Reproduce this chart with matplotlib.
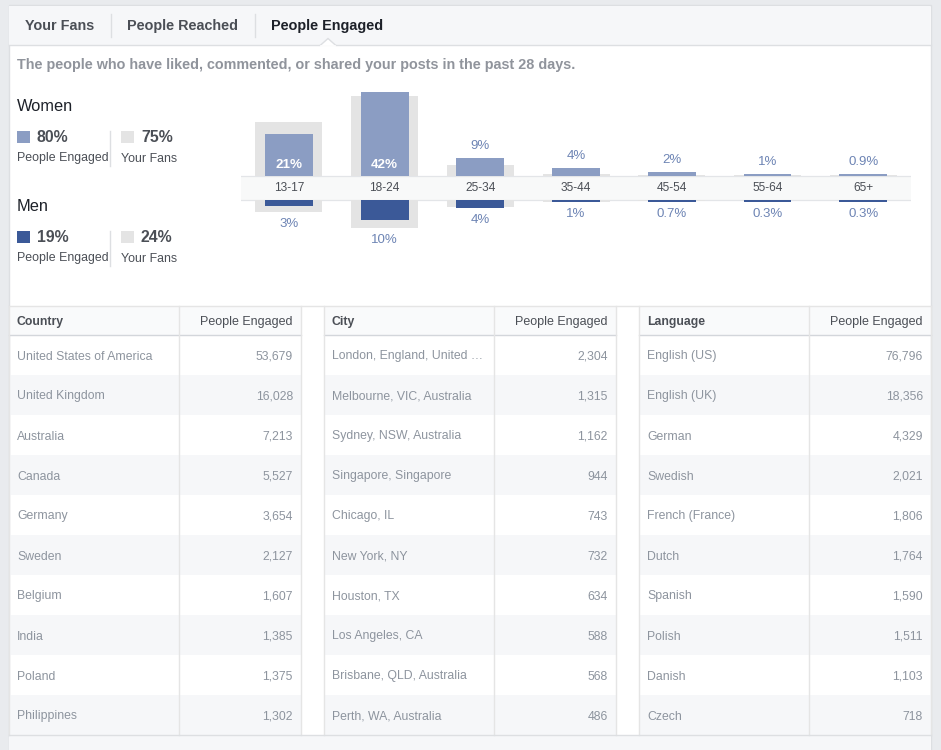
import numpy as np
import matplotlib
matplotlib.use('Agg')
import matplotlib.pyplot as plt
from matplotlib.patches import Rectangle, Polygon

plt.rcParams['font.family'] = ['Liberation Sans', 'DejaVu Sans']

# --- данные ---
age_groups = ['13-17', '18-24', '25-34', '35-44', '45-54', '55-64', '65+']
women_engaged = [21, 42, 9, 4, 2, 1, 0.9]
women_fans = [27, 40, 5.3, 1.2, 0.5, 0.3, 0.3]
men_engaged = [3, 10, 4, 1, 0.7, 0.3, 0.3]
men_fans = [6, 14, 3.4, 1.0, 0.4, 0.2, 0.1]
women_total = ['80%', '75%']
men_total = ['19%', '24%']

tabs = ['Your Fans', 'People Reached', 'People Engaged']
subtitle = 'The people who have liked, commented, or shared your posts in the past 28 days.'

countries = ['United States of America', 'United Kingdom', 'Australia', 'Canada', 'Germany',
             'Sweden', 'Belgium', 'India', 'Poland', 'Philippines']
country_vals = [53679, 16028, 7213, 5527, 3654, 2127, 1607, 1385, 1375, 1302]
cities = ['London, England, United \u2026', 'Melbourne, VIC, Australia', 'Sydney, NSW, Australia',
          'Singapore, Singapore', 'Chicago, IL', 'New York, NY', 'Houston, TX',
          'Los Angeles, CA', 'Brisbane, QLD, Australia', 'Perth, WA, Australia']
city_vals = [2304, 1315, 1162, 944, 743, 732, 634, 588, 568, 486]
languages = ['English (US)', 'English (UK)', 'German', 'Swedish', 'French (France)',
             'Dutch', 'Spanish', 'Polish', 'Danish', 'Czech']
language_vals = [76796, 18356, 4329, 2021, 1806, 1764, 1590, 1511, 1103, 718]

# цвета
LIGHT_BLUE = '#8b9dc3'
DARK_BLUE = '#3b5998'
FANS_GRAY = '#e4e4e4'
LABEL_BLUE = '#6d84b4'
TEXT_DARK = '#4b4f56'
TEXT_GRAY = '#8d949e'
BORDER = '#dddfe2'
ROW_GRAY = '#f6f7f9'
TABLE_FS = 8.8

fig = plt.figure(figsize=(9.41, 7.5), dpi=100)
fig.patch.set_facecolor('#e9ebee')

# слой интерфейса в пиксельных координатах
ui = fig.add_axes([0, 0, 1, 1])
ui.set_xlim(0, 941)
ui.set_ylim(750, 0)
ui.axis('off')

# панель и вкладки
ui.add_patch(Rectangle((9, 5), 922, 760, fc='white', ec=BORDER, lw=1))
ui.add_patch(Rectangle((9.5, 5.5), 921, 39.5, fc=ROW_GRAY, ec='none'))
ui.plot([9, 931], [45, 45], color=BORDER, lw=1)
tab_x = [25, 127, 271]
for i, (tx, name) in enumerate(zip(tab_x, tabs)):
    color = '#1d2129' if i == 2 else TEXT_DARK
    ui.text(tx, 30, name, fontsize=10.4, fontweight='bold', color=color, va='baseline')
for sx in [111, 255]:
    ui.plot([sx, sx], [14, 37], color=BORDER, lw=1)
ui.add_patch(Polygon([(320, 45.6), (328, 38.5), (336, 45.6)], closed=False,
                     fc='white', ec=BORDER, lw=1, zorder=3))
ui.plot([320.8, 335.2], [45.6, 45.6], color='white', lw=1.2, zorder=4)

ui.text(17, 69, subtitle, fontsize=10.4, fontweight='bold', color='#90949c', va='baseline')

# легенда слева
for y0, title, totals, col in [(105, 'Women', women_total, LIGHT_BLUE),
                                (205, 'Men', men_total, DARK_BLUE)]:
    ui.text(17, y0 + 6, title, fontsize=11.8, color='#1d2129', va='baseline')
    ui.add_patch(Rectangle((17, y0 + 26), 13, 12, fc=col, ec='none'))
    ui.text(37, y0 + 37.5, totals[0], fontsize=11.4, fontweight='bold', color=TEXT_DARK, va='baseline')
    ui.text(17, y0 + 56.5, 'People Engaged', fontsize=8.95, color=TEXT_DARK, va='baseline')
    ui.plot([110, 110], [y0 + 26, y0 + 61], color=BORDER, lw=1)
    ui.add_patch(Rectangle((121, y0 + 26), 13, 12, fc=FANS_GRAY, ec='none'))
    ui.text(141, y0 + 37.5, totals[1], fontsize=11.4, fontweight='bold', color=TEXT_DARK, va='baseline')
    ui.text(121, y0 + 56.5, 'Your Fans', fontsize=8.95, color=TEXT_DARK, va='baseline')

# таблицы
table_left = [9, 324, 639]
table_width = 292
divider = 170
header_top, header_bot, row_h = 306, 335, 40
tables = [('Country', countries, country_vals),
          ('City', cities, city_vals),
          ('Language', languages, language_vals)]
n_rows = len(countries)
table_bot = header_bot + n_rows * row_h

ui.plot([9, 931], [header_top, header_top], color='#e5e5e5', lw=1)
for left, (head, names, vals) in zip(table_left, tables):
    ui.add_patch(Rectangle((left, header_top), table_width, header_bot - header_top,
                           fc='#f9fafb', ec='none'))
    for i in range(n_rows):
        if i % 2 == 1:
            ui.add_patch(Rectangle((left, header_bot + i * row_h), table_width, row_h,
                                   fc=ROW_GRAY, ec='none'))
    ui.plot([left, left + table_width], [header_bot, header_bot], color='#d3d6db', lw=1)
    for vx in [left, left + divider, left + table_width]:
        ui.plot([vx, vx], [header_top, table_bot], color='#e5e5e5', lw=1)
    ui.text(left + 8, 325.5, head, fontsize=TABLE_FS, fontweight='bold', color=TEXT_DARK,
            va='baseline')
    ui.text(left + 284, 325.5, 'People Engaged', fontsize=TABLE_FS + 0.2, color=TEXT_DARK,
            va='baseline', ha='right')
    for i, (name, v) in enumerate(zip(names, vals)):
        yb = header_bot + row_h / 2 + i * row_h + 4.5
        ui.text(left + 8, yb, name, fontsize=TABLE_FS, color=TEXT_GRAY, va='baseline')
        ui.text(left + 284, yb, f'{v:,}', fontsize=TABLE_FS, color=TEXT_GRAY,
                va='baseline', ha='right')

ui.add_patch(Rectangle((9.5, table_bot), 921, 20, fc=ROW_GRAY, ec='none'))
ui.plot([9, 931], [table_bot, table_bot], color=BORDER, lw=1)

# диаграмма по возрастам
ax = fig.add_axes([241 / 941, (750 - 256) / 750, 670 / 941, 170 / 750])
ax.set_xlim(-0.5, 6.5)
ax.set_ylim(-34, 51)
ax.axis('off')
ax.patch.set_alpha(0)

half = 6  # половина высоты полосы с подписями
x = np.arange(len(age_groups))
w_eng = np.maximum(women_engaged, 1.0)
m_eng = np.maximum(men_engaged, 1.0)

ax.axhspan(-half, half, fc='#f8f9f9', ec='none', zorder=1)
ax.axhline(half, color='#e3e5e8', lw=0.9, zorder=2)
ax.axhline(-half, color='#e3e5e8', lw=0.9, zorder=2)

ax.bar(x, women_fans, width=0.70, bottom=half, color=FANS_GRAY, zorder=2)
ax.bar(x, w_eng, width=0.50, bottom=half, color=LIGHT_BLUE, zorder=3)
ax.bar(x, -np.array(men_fans), width=0.70, bottom=-half, color=FANS_GRAY, zorder=2)
ax.bar(x, -m_eng, width=0.50, bottom=-half, color=DARK_BLUE, zorder=3)

for i, label in enumerate(age_groups):
    ax.text(x[i], 0, label, fontsize=8.6, color=TEXT_DARK, ha='center', va='center', zorder=4)
    wv = women_engaged[i]
    if wv >= 15:
        ax.text(x[i], half + 5.3, f'{wv:g}%', fontsize=9.6, fontweight='bold',
                color='white', ha='center', va='center', zorder=4)
    else:
        ax.text(x[i], half + w_eng[i] + 6.2, f'{wv:g}%', fontsize=9.5,
                color=LABEL_BLUE, ha='center', va='center', zorder=4)
    mv = men_engaged[i]
    ax.text(x[i], -half - max(m_eng[i], men_fans[i]) - 6.0, f'{mv:g}%', fontsize=9.5,
            color=LABEL_BLUE, ha='center', va='center', zorder=4)

plt.savefig('out.png', dpi=100, facecolor=fig.get_facecolor())
plt.close()
